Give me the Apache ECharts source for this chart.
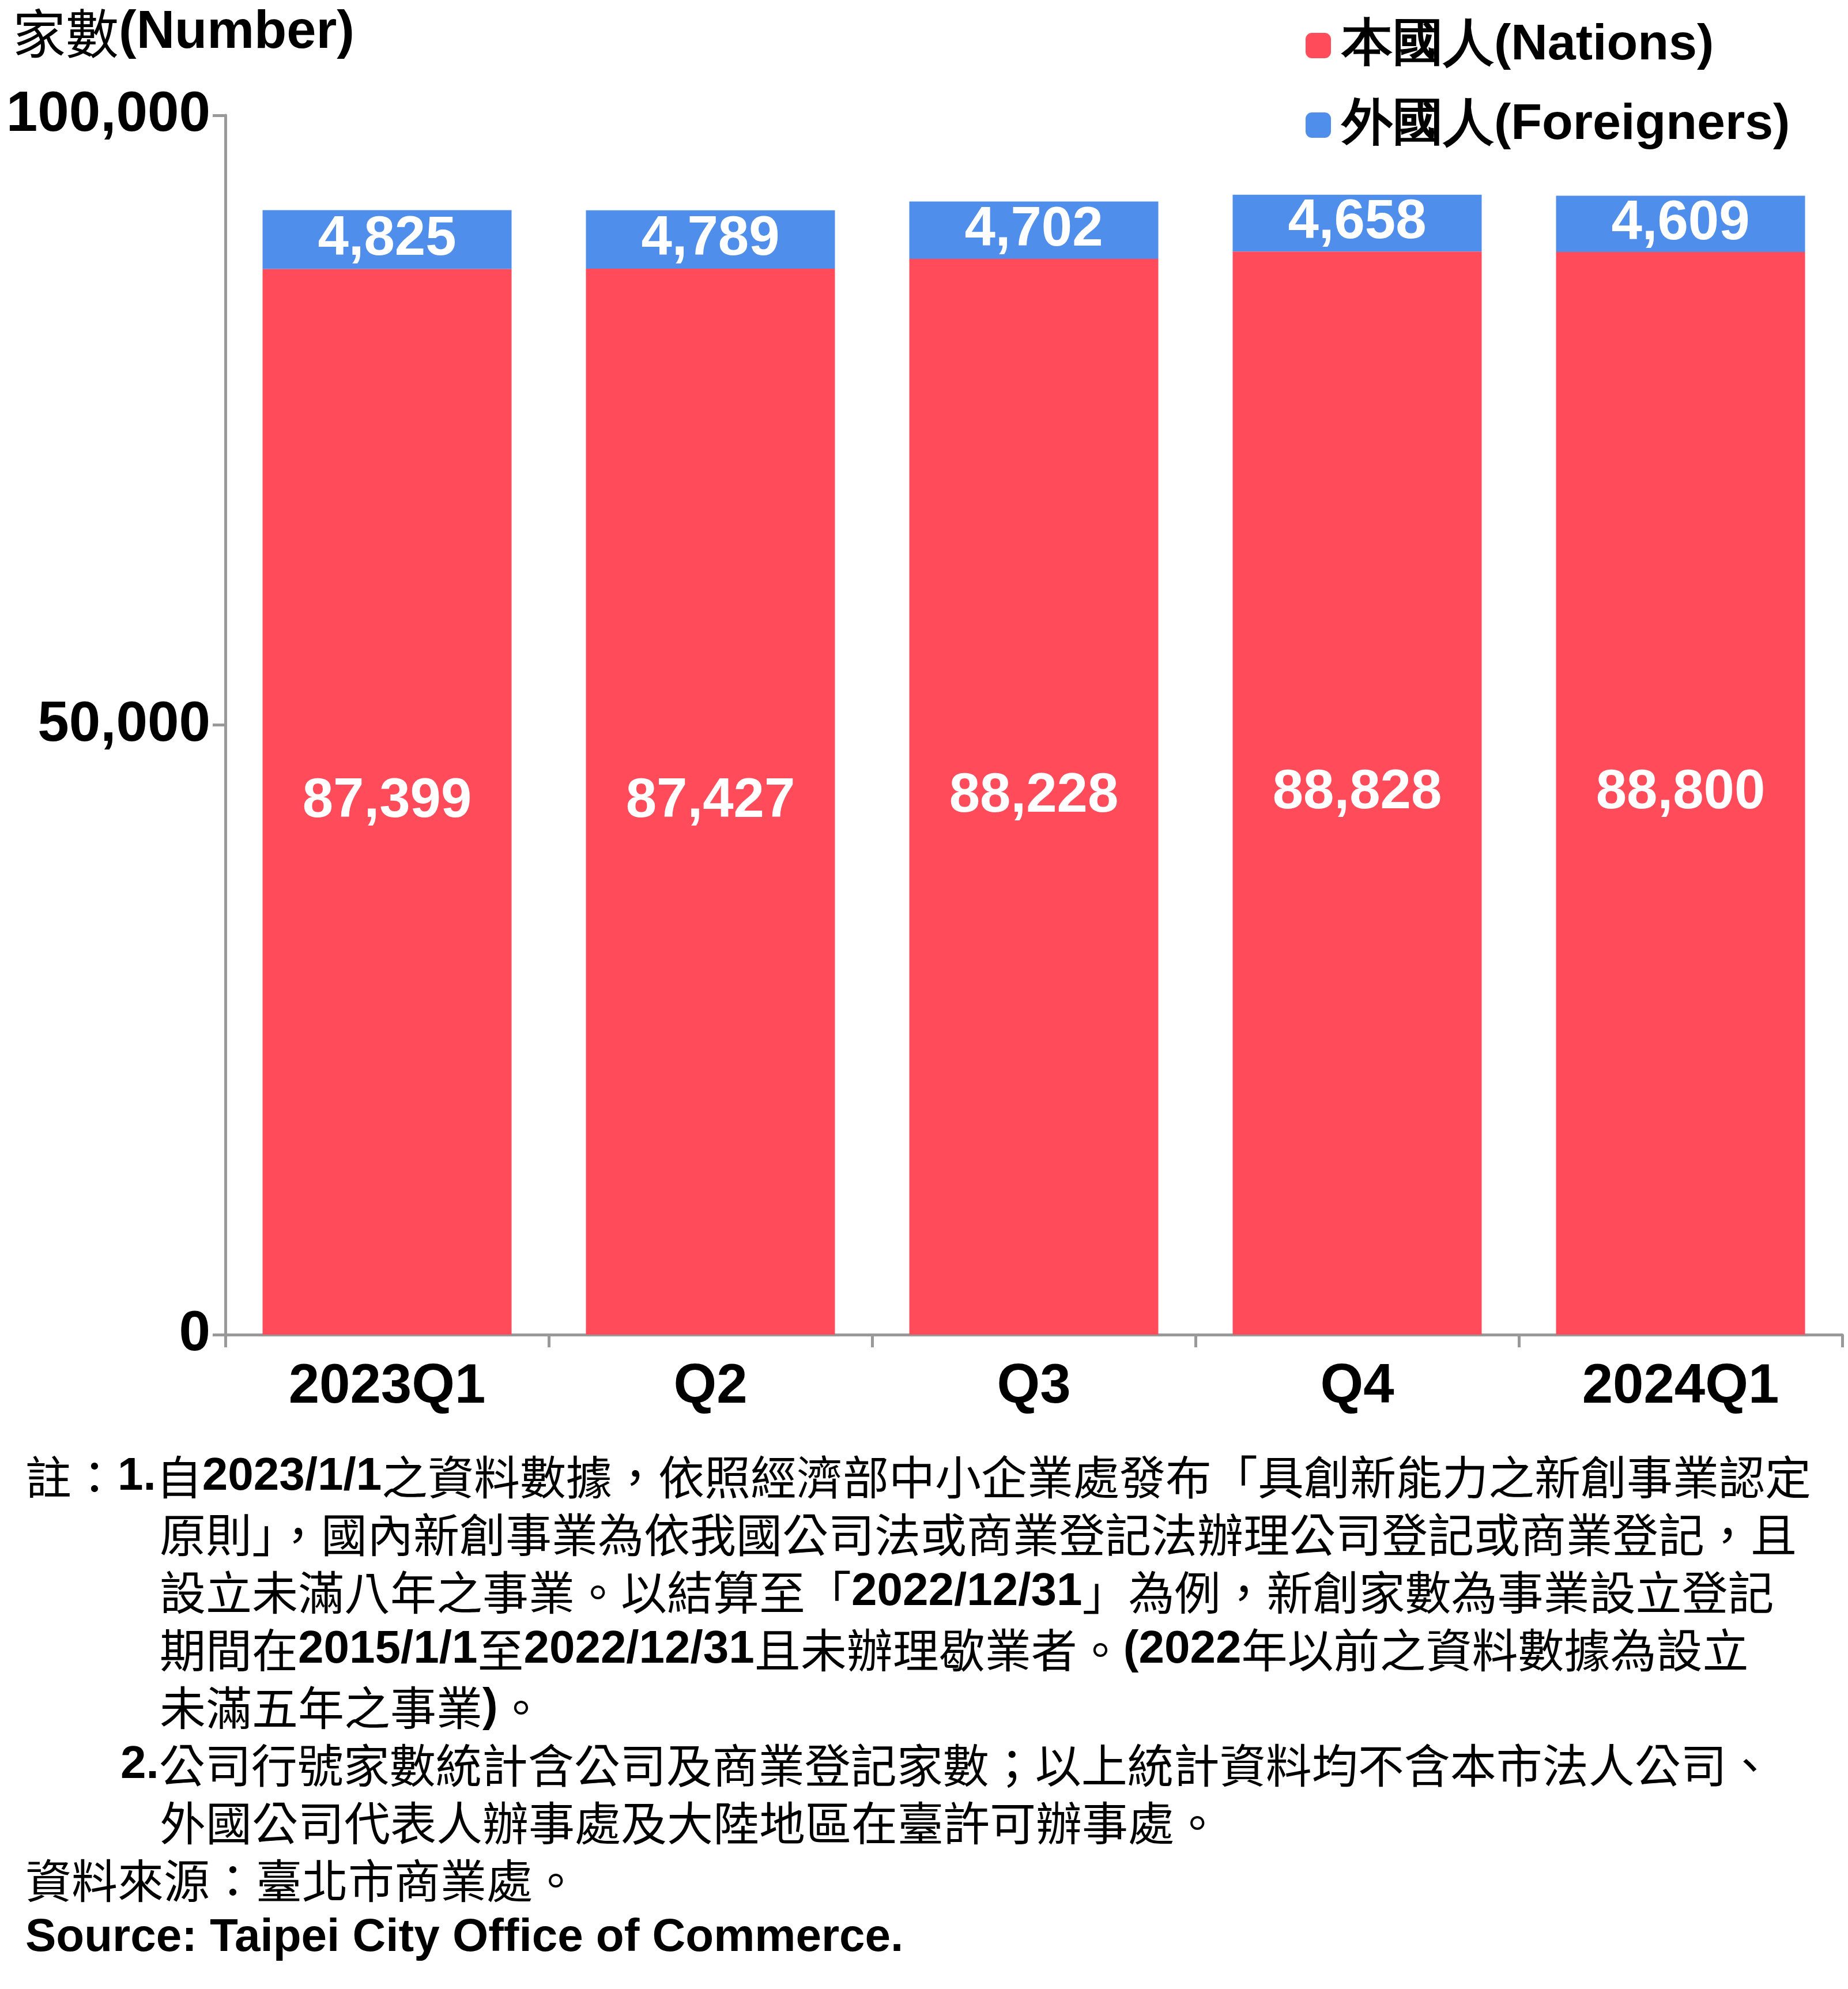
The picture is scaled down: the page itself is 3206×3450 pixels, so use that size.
<!DOCTYPE html>
<html><head><meta charset="utf-8">
<script src="https://cdn.jsdelivr.net/npm/echarts@6/dist/echarts.min.js"></script>
<style>html,body{margin:0;padding:0;background:#fff}#c{width:3206px;height:3450px}</style>
</head><body><div id="c"></div>
<script>
// 季度
const categories = ['2023Q1', 'Q2', 'Q3', 'Q4', '2024Q1'];
// 本國人
const nations = [87399, 87427, 88228, 88828, 88800];
// 外國人
const foreigners = [4825, 4789, 4702, 4658, 4609];
const yTicks = [0, 50000, 100000];

const notes = [
  ['註：1.自2023/1/1之資料數據，依照經濟部中小企業處發布「具創新能力之新創事業認定', 44],
  ['原則」，國內新創事業為依我國公司法或商業登記法辦理公司登記或商業登記，且', 277],
  ['設立未滿八年之事業。以結算至「2022/12/31」為例，新創家數為事業設立登記', 277],
  ['期間在2015/1/1至2022/12/31且未辦理歇業者。(2022年以前之資料數據為設立', 277],
  ['未滿五年之事業)。', 277],
  ['2.公司行號家數統計含公司及商業登記家數；以上統計資料均不含本市法人公司、', 209],
  ['外國公司代表人辦事處及大陸地區在臺許可辦事處。', 277],
  ['資料來源：臺北市商業處。', 44],
  ['Source: Taipei City Office of Commerce.', 44]
];

const font = '"Noto Sans CJK TC", "Liberation Sans", sans-serif';
// 英數字用粗體
const richText = s => s.split(/([\x21-\x7e][\x20-\x7e]*[\x21-\x7e]|[\x21-\x7e])/).filter(t => t)
  .map(t => /^[\x20-\x7e]+$/.test(t) ? '{b|' + t + '}' : '{n|' + t + '}').join('');

const noteGraphics = notes.map((n, i) => ({
  type: 'text', left: n[1], top: 2522 + i * 100,
  style: {
    text: richText(n[0]), fill: '#000',
    rich: {
      n: { fontSize: 80, fontFamily: font, fill: '#000' },
      b: { fontSize: 80, fontFamily: 'Liberation Sans', fontWeight: 'bold', fill: '#000' }
    }
  }
}));
noteGraphics.push({
  type: 'text', left: 22, top: 12,
  style: { text: richText('家數(Number)'), rich: {
    n: { fontSize: 92, fontFamily: font, fill: '#000' },
    b: { fontSize: 92, fontFamily: 'Liberation Sans', fontWeight: 'bold', fill: '#000' } } }
});

const chart = echarts.init(document.getElementById('c'));
chart.setOption({
  animation: false,
  grid: { left: 391, right: 10, top: 200, height: 2115 },
  legend: {
    orient: 'vertical', left: 2260, top: 30, itemWidth: 44, itemHeight: 44, itemGap: 50,
    textStyle: { fontSize: 88, fontFamily: 'Liberation Sans', fontWeight: 'bold', color: '#000', padding: [0, 0, 0, 14] },
    data: ['本國人(Nations)', '外國人(Foreigners)']
  },
  graphic: noteGraphics,
  xAxis: {
    type: 'category', data: categories,
    axisLine: { lineStyle: { color: '#999', width: 5 } },
    axisTick: { show: true, length: 22, lineStyle: { color: '#999', width: 5 } },
    axisLabel: { fontSize: 96, fontWeight: 'bold', fontFamily: 'Liberation Sans', color: '#000', margin: 44 }
  },
  yAxis: {
    type: 'value', min: 0, max: 100000, interval: 50000,
    axisLine: { show: true, lineStyle: { color: '#999', width: 5 } },
    axisTick: { show: true, length: 22, lineStyle: { color: '#999', width: 5 } },
    splitLine: { show: false },
    axisLabel: {
      fontSize: 98, fontWeight: 'bold', fontFamily: 'Liberation Sans', color: '#000', margin: 26,
      formatter: v => yTicks.includes(v) ? v.toLocaleString('en-US') : ''
    }
  },
  series: [
    {
      name: '本國人(Nations)', type: 'bar', stack: 't', data: nations, barWidth: '77%',
      itemStyle: { color: '#FF4B5A' },
      label: { show: true, position: 'inside', fontSize: 96, fontWeight: 'bold', fontFamily: 'Liberation Sans',
        color: '#fff', formatter: p => p.value.toLocaleString('en-US') }
    },
    {
      name: '外國人(Foreigners)', type: 'bar', stack: 't', data: foreigners,
      itemStyle: { color: '#4F8EEA' },
      label: { show: true, position: 'inside', fontSize: 96, fontWeight: 'bold', fontFamily: 'Liberation Sans',
        color: '#fff', formatter: p => p.value.toLocaleString('en-US') }
    }
  ]
});
</script></body></html>
